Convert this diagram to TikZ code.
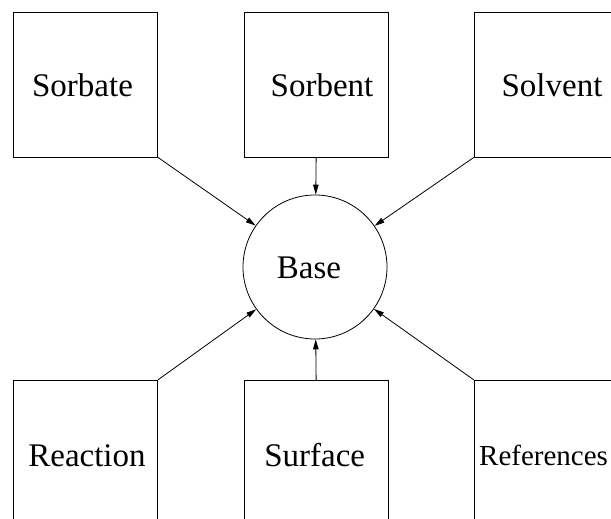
\documentclass[tikz,border=0pt]{standalone}
\usepackage{fontspec}
\setmainfont{Liberation Serif}
\usetikzlibrary{arrows.meta}
\tikzset{
  box/.style={draw, line width=0.8pt, minimum width=144.5pt, minimum height=144pt, anchor=north west, inner sep=0pt},
  hub/.style={draw, circle, line width=0.8pt, minimum size=144pt, inner sep=0pt},
  lbl/.style={font=\fontsize{33}{40}\selectfont, inner sep=0pt, anchor=base},
  feed/.style={-{Triangle[length=10pt,width=5.5pt]}, line width=0.8pt}
}
\begin{document}
\begin{tikzpicture}[x=1pt,y=-1pt]
            \useasboundingbox (0,0) rectangle (611,519);
            % top row
            \node[box] (sorbate) at (12.5,12.5) {};
            \node[box] (sorbent) at (243.5,12.5) {};
            \node[box, minimum width=156pt] (solvent) at (474,12.5) {};
            \node[lbl] (sorbateLbl) at (82.5,97) {Sorbate};
            \node[lbl] (sorbentLbl) at (322,97) {Sorbent};
            \node[lbl] (solventLbl) at (552,97) {Solvent};
            % bottom row
            \node[box] (reaction) at (12.5,380) {};
            \node[box] (surface) at (243.5,380) {};
            \node[box, minimum width=156pt] (references) at (474,380) {};
            \node[lbl] (reactionLbl) at (87,466.5) {Reaction};
            \node[lbl] (surfaceLbl) at (314.7,466.5) {Surface};
            \node[lbl, anchor=base west, font=\fontsize{29}{35}\selectfont] (referencesLbl) at (479,465.5) {References};
            % centre
            \node[hub] (base) at (315,267) {};
            \node[lbl] (baseLbl) at (309,278.3) {Base};
            % arrows into the centre
            \draw[feed] (sorbate.south east) -- (base);
            \draw[feed] (sorbent.south) -- (base);
            \draw[feed] (solvent.south west) -- (base);
            \draw[feed] (reaction.north east) -- (base);
            \draw[feed] (surface.north) -- (base);
            \draw[feed] (references.north west) -- (base);
\end{tikzpicture}
\end{document}
